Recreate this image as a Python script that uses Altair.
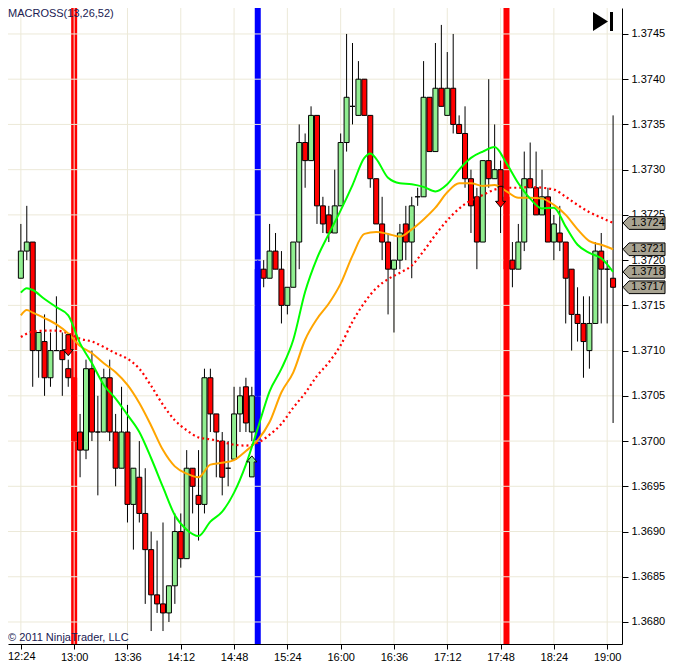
import altair as alt
import pandas as pd

FONT = "Liberation Sans"

# ---- axis labels -------------------------------------------------------
time_labels = ["12:24", "13:00", "13:36", "14:12", "14:48", "15:24",
               "16:00", "16:36", "17:12", "17:48", "18:24", "19:00"]
time_ticks = [0, 9, 18, 27, 36, 45, 54, 63, 72, 81, 90, 99]
price_ticks = [1.3680, 1.3685, 1.3690, 1.3695, 1.3700, 1.3705, 1.3710,
               1.3715, 1.3720, 1.3725, 1.3730, 1.3735, 1.3740, 1.3745]

# ---- 4-minute candles (bar index 0 = 12:24) ----------------------------
opens = [1.3718, 1.3721, 1.3722, 1.3710, 1.3711, 1.3707, 1.3710, 1.3710, 1.3708, 1.3707,
         1.3701, 1.3699, 1.3708, 1.3701, 1.3701, 1.3707, 1.3701, 1.3697, 1.3701, 1.3693,
         1.3696, 1.3692, 1.3688, 1.3683, 1.3682, 1.3681, 1.3684, 1.3690, 1.3687, 1.3697,
         1.3694, 1.3693, 1.3707, 1.3703, 1.3700, 1.3697, 1.3698, 1.3703, 1.3706, 1.3701,
         1.3705, 1.3719, 1.3718, 1.3721, 1.3719, 1.3715, 1.3717, 1.3722, 1.3733, 1.3731,
         1.3736, 1.3726, 1.3725, 1.3723, 1.3726, 1.3733, 1.3737, 1.3736, 1.3740, 1.3736,
         1.3729, 1.3724, 1.3722, 1.3719, 1.3720, 1.3724, 1.3722, 1.3727, 1.3727, 1.3738,
         1.3732, 1.3739, 1.3736, 1.3739, 1.3735, 1.3734, 1.3729, 1.3727, 1.3722, 1.3731,
         1.3729, 1.3730, 1.3727, 1.3720, 1.3719, 1.3722, 1.3729, 1.3728, 1.3725, 1.3727,
         1.3722, 1.3723, 1.3722, 1.3719, 1.3714, 1.3713, 1.3710, 1.3713, 1.3721, 1.3719,
         1.3718]
highs = [1.3724, 1.3726, 1.3722, 1.3712, 1.3714, 1.3712, 1.3716, 1.3712, 1.3709, 1.3707,
         1.3703, 1.3709, 1.3710, 1.3705, 1.3708, 1.3709, 1.3703, 1.3706, 1.3704, 1.3697,
         1.3700, 1.3697, 1.3690, 1.3689, 1.3691, 1.3684, 1.3692, 1.3692, 1.3699, 1.3697,
         1.3699, 1.3708, 1.3708, 1.3703, 1.3701, 1.3700, 1.3706, 1.3706, 1.3707, 1.3706,
         1.3720, 1.3720, 1.3724, 1.3723, 1.3721, 1.3717, 1.3722, 1.3735, 1.3734, 1.3737,
         1.3736, 1.3727, 1.3726, 1.3730, 1.3734, 1.3745, 1.3744, 1.3742, 1.3740, 1.3736,
         1.3729, 1.3727, 1.3723, 1.3720, 1.3724, 1.3726, 1.3727, 1.3728, 1.3742, 1.3738,
         1.3744, 1.3746, 1.3743, 1.3745, 1.3736, 1.3737, 1.3730, 1.3728, 1.3731, 1.3740,
         1.3735, 1.3731, 1.3728, 1.3722, 1.3724, 1.3732, 1.3733, 1.3732, 1.3730, 1.3728,
         1.3725, 1.3726, 1.3722, 1.3719, 1.3717, 1.3716, 1.3716, 1.3722, 1.3723, 1.3720,
         1.3736]
lows = [1.3718, 1.3720, 1.3706, 1.3707, 1.3705, 1.3706, 1.3710, 1.3705, 1.3706, 1.3700,
        1.3696, 1.3698, 1.3700, 1.3694, 1.3701, 1.3700, 1.3695, 1.3697, 1.3691, 1.3688,
        1.3691, 1.3682, 1.3679, 1.3681, 1.3679, 1.3680, 1.3682, 1.3686, 1.3687, 1.3692,
        1.3689, 1.3692, 1.3701, 1.3696, 1.3694, 1.3695, 1.3698, 1.3701, 1.3701, 1.3700,
        1.3704, 1.3717, 1.3718, 1.3719, 1.3713, 1.3714, 1.3717, 1.3719, 1.3728, 1.3731,
        1.3724, 1.3723, 1.3722, 1.3723, 1.3726, 1.3732, 1.3735, 1.3736, 1.3736, 1.3728,
        1.3724, 1.3720, 1.3714, 1.3712, 1.3719, 1.3720, 1.3718, 1.3726, 1.3727, 1.3732,
        1.3732, 1.3737, 1.3736, 1.3734, 1.3734, 1.3728, 1.3723, 1.3719, 1.3722, 1.3728,
        1.3729, 1.3723, 1.3718, 1.3717, 1.3719, 1.3721, 1.3728, 1.3725, 1.3725, 1.3722,
        1.3720, 1.3721, 1.3713, 1.3710, 1.3711, 1.3707, 1.3708, 1.3713, 1.3713, 1.3713,
        1.3702]
closes = [1.3721, 1.3722, 1.3710, 1.3712, 1.3707, 1.3710, 1.3710, 1.3709, 1.3707, 1.3700,
          1.3699, 1.3708, 1.3701, 1.3701, 1.3707, 1.3701, 1.3697, 1.3701, 1.3693, 1.3697,
          1.3692, 1.3688, 1.3683, 1.3682, 1.3681, 1.3684, 1.3690, 1.3687, 1.3697, 1.3695,
          1.3693, 1.3707, 1.3703, 1.3701, 1.3696, 1.3697, 1.3703, 1.3705, 1.3702, 1.3705,
          1.3719, 1.3718, 1.3721, 1.3719, 1.3715, 1.3717, 1.3722, 1.3733, 1.3731, 1.3736,
          1.3726, 1.3724, 1.3723, 1.3726, 1.3733, 1.3738, 1.3737, 1.3740, 1.3736, 1.3729,
          1.3724, 1.3722, 1.3719, 1.3720, 1.3723, 1.3722, 1.3726, 1.3727, 1.3738, 1.3732,
          1.3739, 1.3737, 1.3739, 1.3735, 1.3734, 1.3729, 1.3726, 1.3722, 1.3731, 1.3729,
          1.3730, 1.3728, 1.3719, 1.3719, 1.3722, 1.3729, 1.3728, 1.3725, 1.3727, 1.3722,
          1.3724, 1.3722, 1.3718, 1.3714, 1.3713, 1.3711, 1.3713, 1.3721, 1.3719, 1.3719,
          1.3717]

# ---- moving averages (13 / 26 / 52) ------------------------------------
fast_idx = [0, 1, 2, 4, 6, 8, 10, 12, 14, 16, 18, 20, 22, 24, 26, 28, 30, 32, 34, 36,
            38, 40, 42, 44, 46, 48, 50, 52, 54, 56, 58, 59, 60, 62, 64, 66, 68, 70, 72,
            74, 76, 78, 80, 82, 84, 86, 88, 90, 92, 94, 96, 98, 100]
fast_ma = [1.37164, 1.37169, 1.37167, 1.37157, 1.37148, 1.37139, 1.37108, 1.37086, 1.37062,
           1.37047, 1.37029, 1.37010, 1.36981, 1.36949, 1.36918, 1.36902, 1.36895, 1.36911,
           1.36922, 1.36943, 1.36974, 1.37014, 1.37055, 1.37080, 1.37112, 1.37165, 1.37202,
           1.37229, 1.37255, 1.37283, 1.37313, 1.37318, 1.37312, 1.37291, 1.37285, 1.37284,
           1.37281, 1.37276, 1.37284, 1.37300, 1.37313, 1.37320, 1.37325, 1.37307, 1.37285,
           1.37268, 1.37257, 1.37258, 1.37237, 1.37217, 1.37208, 1.37202, 1.37187]

mid_idx = [0, 1, 2, 4, 6, 8, 10, 12, 14, 16, 18, 20, 22, 24, 26, 28, 30, 32, 34, 36,
           38, 40, 42, 44, 46, 48, 50, 52, 54, 56, 58, 60, 62, 64, 66, 68, 70, 72,
           74, 76, 78, 80, 82, 84, 86, 88, 90, 92, 94, 96, 98, 100]
mid_ma = [1.37139, 1.37145, 1.37142, 1.37136, 1.37129, 1.37119, 1.37105, 1.37097, 1.37086,
          1.37076, 1.37062, 1.37042, 1.37017, 1.36990, 1.36972, 1.36964, 1.36960, 1.36974,
          1.36976, 1.36979, 1.36989, 1.37001, 1.37021, 1.37054, 1.37076, 1.37112, 1.37135,
          1.37152, 1.37174, 1.37205, 1.37229, 1.37231, 1.37229, 1.37226, 1.37234, 1.37245,
          1.37258, 1.37275, 1.37285, 1.37285, 1.37282, 1.37283, 1.37276, 1.37269, 1.37269,
          1.37268, 1.37261, 1.37250, 1.37234, 1.37221, 1.37217, 1.37212]

slow_idx = [0, 2, 4, 6, 8, 10, 12, 14, 16, 18, 20, 22, 24, 26, 28, 30, 32, 34, 36,
            38, 40, 42, 44, 46, 48, 50, 52, 54, 56, 58, 60, 62, 64, 66, 68, 70, 72,
            74, 76, 78, 80, 82, 84, 86, 88, 90, 92, 94, 96, 98, 100]
slow_ma = [1.37115, 1.37121, 1.37122, 1.37122, 1.37119, 1.37113, 1.37110, 1.37104, 1.37097,
           1.37091, 1.37080, 1.37061, 1.37040, 1.37023, 1.37012, 1.37004, 1.37002, 1.36999,
           1.36996, 1.36995, 1.36998, 1.37007, 1.37019, 1.37037, 1.37053, 1.37072, 1.37087,
           1.37106, 1.37132, 1.37153, 1.37169, 1.37179, 1.37186, 1.37194, 1.37210, 1.37228,
           1.37244, 1.37257, 1.37266, 1.37272, 1.37278, 1.37280, 1.37280, 1.37281, 1.37280,
           1.37278, 1.37270, 1.37261, 1.37253, 1.37247, 1.37241]

# ---- crossover signals --------------------------------------------------
signal_idx = [9, 40, 82]
signal_kind = ["sell", "buy", "sell"]
arrow_idx = [8, 39, 81]
arrow_price = [1.37106, 1.36972, 1.37270]
arrow_dir = ["down", "up", "down"]

# ---- build tables -------------------------------------------------------
n = len(opens)
kinds = []
for k in range(n):
    if k in signal_idx:
        kinds.append(signal_kind[signal_idx.index(k)])
    elif closes[k] < opens[k]:
        kinds.append("down")
    else:
        kinds.append("up")
candles = pd.DataFrame({"i": list(range(n)), "open": opens, "high": highs,
                        "low": lows, "close": closes, "kind": kinds})
fast_df = pd.DataFrame({"i": fast_idx, "p": fast_ma})
mid_df = pd.DataFrame({"i": mid_idx, "p": mid_ma})
slow_df = pd.DataFrame({"i": slow_idx, "p": slow_ma})
sig_df = pd.DataFrame({"i": signal_idx, "kind": signal_kind})
arrow_df = pd.DataFrame({"i": arrow_idx, "p": arrow_price, "dir": arrow_dir})
vgrid_df = pd.DataFrame({"i": time_ticks})
hgrid_df = pd.DataFrame({"p": price_ticks})
last_df = pd.DataFrame({"p": [slow_ma[-1], mid_ma[-1], fast_ma[-1], closes[-1]]})

# ---- scales / axes ------------------------------------------------------
W, H = 614, 636
xscale = alt.Scale(domain=[-1.329, 100.66], nice=False, zero=False)
yscale = alt.Scale(domain=[1.3677568, 1.374787], nice=False, zero=False)

lab_js = "[" + ",".join("'%s'" % t for t in time_labels) + "]"
xaxis = alt.Axis(values=time_ticks, labelExpr="datum.value == 0 ? '' : " + lab_js + "[round(datum.value/9)]",
                 grid=False, tickSize=5, tickColor="black", domainColor="black",
                 labelColor="black", labelFont=FONT, labelFontSize=11, labelPadding=2,
                 labelOverlap=False, labelFlush=False, title=None)
yaxis = alt.Axis(orient="right", values=price_ticks, format=".4f", grid=False,
                 tickSize=6, tickColor="black", domainColor="black", labelColor="black",
                 labelFont=FONT, labelFontSize=11, labelPadding=3, labelOverlap=False,
                 labelFlush=False, title=None)


def X(field="i"):
    return alt.X(f"{field}:Q", scale=xscale, axis=xaxis, title=None)


def Y(field):
    return alt.Y(f"{field}:Q", scale=yscale, axis=yaxis, title=None)


kind_dom = ["up", "down", "sell", "buy"]
fill_scale = alt.Scale(domain=kind_dom, range=["#90EE90", "#FF0000", "#FF0000", "#0000FF"])
line_scale = alt.Scale(domain=kind_dom, range=["#000000", "#000000", "#FF0000", "#0000FF"])

stripes = alt.Chart(sig_df).mark_rule(strokeWidth=6).encode(
    x=X(), color=alt.Color("kind:N", scale=line_scale, legend=None))
grid_v = alt.Chart(vgrid_df).mark_rule(color="#ECE9D8", strokeWidth=1).encode(x=X())
grid_h = alt.Chart(hgrid_df).mark_rule(color="#ECE9D8", strokeWidth=1).encode(y=Y("p"))

wicks = alt.Chart(candles).mark_rule(strokeWidth=1).encode(
    x=X(), y=Y("low"), y2="high", color=alt.Color("kind:N", scale=line_scale, legend=None))
bodies = alt.Chart(candles).mark_bar(size=5, strokeWidth=1).encode(
    x=X(), y=Y("open"), y2="close",
    fill=alt.Fill("kind:N", scale=fill_scale, legend=None),
    stroke=alt.Stroke("kind:N", scale=line_scale, legend=None))

slow_line = alt.Chart(slow_df).mark_line(color="#FF0000", strokeWidth=2.2, strokeDash=[2, 3],
                                         interpolate="monotone").encode(x=X(), y=Y("p"))
mid_line = alt.Chart(mid_df).mark_line(color="#FFA500", strokeWidth=2,
                                       interpolate="monotone").encode(x=X(), y=Y("p"))
fast_line = alt.Chart(fast_df).mark_line(color="#00FF00", strokeWidth=2,
                                         interpolate="monotone").encode(x=X(), y=Y("p"))

down_path = "M-0.22,-1L0.22,-1L0.22,0.43L0.48,0.43L0,1L-0.48,0.43L-0.22,0.43Z"
up_path = "M-0.22,1L0.22,1L0.22,-0.43L0.48,-0.43L0,-1L-0.48,-0.43L-0.22,-0.43Z"
arrows = alt.Chart(arrow_df).mark_point(filled=True, size=441, opacity=1, strokeWidth=1).encode(
    x=X(), y=Y("p"),
    shape=alt.Shape("dir:N", scale=alt.Scale(domain=["down", "up"], range=[down_path, up_path]), legend=None),
    fill=alt.Fill("dir:N", scale=alt.Scale(domain=["down", "up"], range=["#FF0000", "#006400"]), legend=None),
    stroke=alt.Stroke("dir:N", scale=alt.Scale(domain=["down", "up"], range=["#600000", "#000000"]), legend=None)
)

box_path = "M-1,0L-0.714,-0.302L1,-0.302L1,0.302L-0.714,0.302Z"
boxes = alt.Chart(last_df).mark_point(shape=box_path, size=1764, filled=True, fill="#A8A392",
                                      stroke="#000000", strokeWidth=1, opacity=1).encode(
    x=alt.value(636), y=Y("p"))
box_text = alt.Chart(last_df).transform_calculate(
    lab="format(floor(datum.p*10000 + 0.000001)/10000, '.4f')"
).mark_text(align="center", baseline="middle", font=FONT, fontSize=11, color="black").encode(
    x=alt.value(640), y=Y("p"), text="lab:N")

title_txt = alt.Chart(pd.DataFrame({"t": ["MACROSS(13,26,52)"]})).mark_text(
    align="left", baseline="middle", font=FONT, fontSize=11, color="#202052").encode(
    x=alt.value(0), y=alt.value(6), text="t:N")
copy_txt = alt.Chart(pd.DataFrame({"t": ["\u00a9 2011 NinjaTrader, LLC"]})).mark_text(
    align="left", baseline="middle", font=FONT, fontSize=11, color="#202052").encode(
    x=alt.value(0), y=alt.value(H - 6), text="t:N")
first_lab = alt.Chart(pd.DataFrame({"t": [time_labels[0]]})).mark_text(
    align="left", baseline="top", font=FONT, fontSize=11, color="black").encode(
    x=alt.value(0), y=alt.value(H + 7), text="t:N")

icon_path = "M-1,-0.95L0.5,0L-1,0.95ZM0.7,-0.95L1,-0.95L1,0.95L0.7,0.95Z"
icon = alt.Chart(pd.DataFrame({"t": [1]})).mark_point(
    shape=icon_path, size=400, filled=True, fill="black", opacity=1, strokeWidth=0).encode(
    x=alt.value(595), y=alt.value(13.5))

chart = alt.layer(
    stripes, grid_v, grid_h, wicks, bodies, slow_line, mid_line, fast_line, arrows,
    boxes, box_text, title_txt, copy_txt, first_lab, icon
).properties(
    width=W, height=H,
    autosize=alt.AutoSizeParams(type="none"),
    padding={"left": 0, "top": 0, "right": 55, "bottom": 18},
    background="white",
).configure_view(stroke=None)

chart.save("out.html", embed_options={"renderer": "svg", "actions": False})
